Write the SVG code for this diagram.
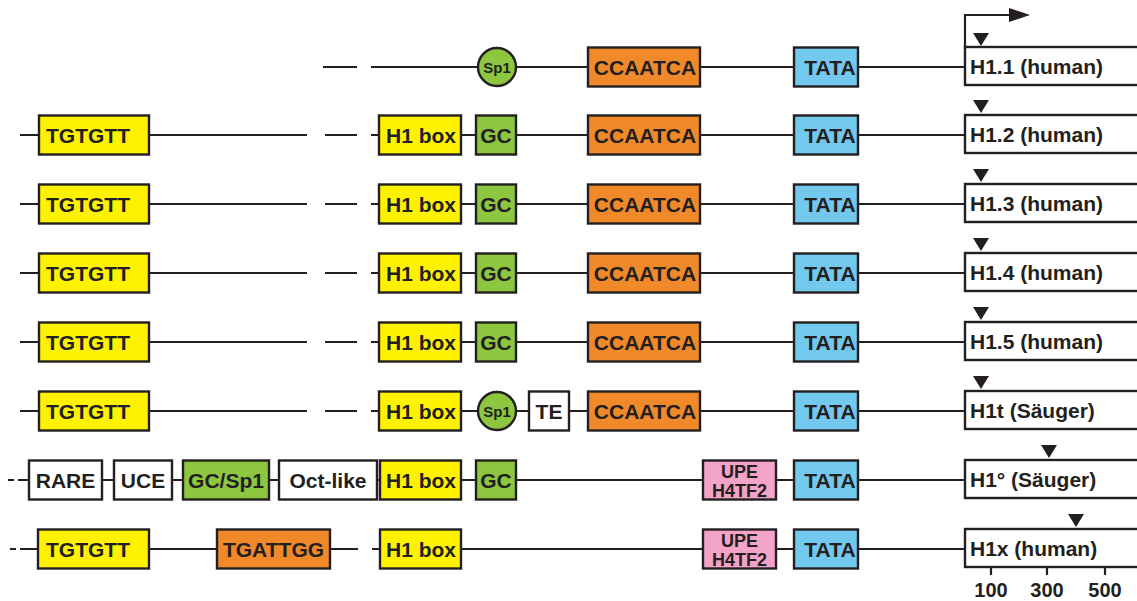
<svg xmlns="http://www.w3.org/2000/svg" width="1137" height="601" viewBox="0 0 1137 601">
<style>
.ln{stroke:#231f20;stroke-width:2.2;fill:none}
.bx{stroke:#231f20;stroke-width:2.4}
.y{fill:#fff200}.g{fill:#8dc63f}.o{fill:#f0892a}.b{fill:#73c8ee}.p{fill:#f3a3c8}.w{fill:#ffffff}
.t{font-family:"Liberation Sans",Arial,sans-serif;font-weight:bold;font-size:21px;fill:#231f20;text-anchor:middle}
.s{font-size:15px}
.u{font-size:18px}
.l{text-anchor:start}
.n{font-size:20px}
.tri{fill:#231f20}
</style>
<rect width="1137" height="601" fill="#ffffff"/>
<g id="connectors">
<!-- row 1 -->
<path class="ln" d="M323 67H357M371 67H478M516 67H588M700 67H794M858 67H965"/>
<!-- rows 2-5 -->
<path class="ln" d="M20 135H39M149 135H307M325 135H357M371 135H379M461 135H476M516 135H588M700 135H794M858 135H965"/>
<path class="ln" d="M20 204H39M149 204H307M325 204H357M371 204H379M461 204H476M516 204H588M700 204H794M858 204H965"/>
<path class="ln" d="M20 273H39M149 273H307M325 273H357M371 273H379M461 273H476M516 273H588M700 273H794M858 273H965"/>
<path class="ln" d="M20 342H39M149 342H307M325 342H357M371 342H379M461 342H476M516 342H588M700 342H794M858 342H965"/>
<!-- row 6 -->
<path class="ln" d="M20 411H39M149 411H307M325 411H357M371 411H379M461 411H478M516 411H529M569 411H588M700 411H794M858 411H965"/>
<!-- row 7 -->
<path class="ln" d="M8 480H14M18 480H29M102 480H114M172 480H183M269 480H279M377 480H380M461 480H476M516 480H703M776 480H794M858 480H965"/>
<!-- row 8 -->
<path class="ln" d="M10 549H16M20 549H38M149 549H217M330 549H358M372 549H380M461 549H703M776 549H794M858 549H965"/>
<!-- transcription start arrow -->
<path class="ln" d="M965 49V15H1012"/>
<polygon class="tri" points="1009,8 1030,15 1009,22"/>
</g>

<!-- row 1 -->
<g id="r1-sp1"><circle class="bx g" cx="497" cy="67" r="19"/><text class="t s" x="497" y="72.5">Sp1</text></g>
<g id="r1-ccaatca"><rect class="bx o" x="588" y="47.5" width="112" height="39"/><text class="t" x="645" y="74.5">CCAATCA</text></g>
<g id="r1-tata"><rect class="bx b" x="794" y="47.5" width="64" height="39"/><text class="t" x="830" y="74.5">TATA</text></g>
<g id="r1-gene"><rect class="bx w" x="965" y="47" width="180" height="38"/><polygon class="tri" points="973,33 989,33 981,46"/><text class="t l" x="970" y="74">H1.1 (human)</text></g>

<!-- row 2 -->
<g id="r2-tgtgtt"><rect class="bx y" x="39" y="115.5" width="110" height="39"/><text class="t" x="88" y="142.5">TGTGTT</text></g>
<g id="r2-h1box"><rect class="bx y" x="379" y="115.5" width="82" height="39"/><text class="t" x="421" y="142.5">H1 box</text></g>
<g id="r2-gc"><rect class="bx g" x="476" y="115.5" width="40" height="39"/><text class="t" x="496" y="142.5">GC</text></g>
<g id="r2-ccaatca"><rect class="bx o" x="588" y="115.5" width="112" height="39"/><text class="t" x="645" y="142.5">CCAATCA</text></g>
<g id="r2-tata"><rect class="bx b" x="794" y="115.5" width="64" height="39"/><text class="t" x="830" y="142.5">TATA</text></g>
<g id="r2-gene"><rect class="bx w" x="965" y="115" width="180" height="38"/><polygon class="tri" points="973,100 989,100 981,113"/><text class="t l" x="970" y="142">H1.2 (human)</text></g>

<!-- row 3 -->
<g id="r3-tgtgtt"><rect class="bx y" x="39" y="184.5" width="110" height="39"/><text class="t" x="88" y="211.5">TGTGTT</text></g>
<g id="r3-h1box"><rect class="bx y" x="379" y="184.5" width="82" height="39"/><text class="t" x="421" y="211.5">H1 box</text></g>
<g id="r3-gc"><rect class="bx g" x="476" y="184.5" width="40" height="39"/><text class="t" x="496" y="211.5">GC</text></g>
<g id="r3-ccaatca"><rect class="bx o" x="588" y="184.5" width="112" height="39"/><text class="t" x="645" y="211.5">CCAATCA</text></g>
<g id="r3-tata"><rect class="bx b" x="794" y="184.5" width="64" height="39"/><text class="t" x="830" y="211.5">TATA</text></g>
<g id="r3-gene"><rect class="bx w" x="965" y="184" width="180" height="38"/><polygon class="tri" points="973,169 989,169 981,182"/><text class="t l" x="970" y="211">H1.3 (human)</text></g>

<!-- row 4 -->
<g id="r4-tgtgtt"><rect class="bx y" x="39" y="253.5" width="110" height="39"/><text class="t" x="88" y="280.5">TGTGTT</text></g>
<g id="r4-h1box"><rect class="bx y" x="379" y="253.5" width="82" height="39"/><text class="t" x="421" y="280.5">H1 box</text></g>
<g id="r4-gc"><rect class="bx g" x="476" y="253.5" width="40" height="39"/><text class="t" x="496" y="280.5">GC</text></g>
<g id="r4-ccaatca"><rect class="bx o" x="588" y="253.5" width="112" height="39"/><text class="t" x="645" y="280.5">CCAATCA</text></g>
<g id="r4-tata"><rect class="bx b" x="794" y="253.5" width="64" height="39"/><text class="t" x="830" y="280.5">TATA</text></g>
<g id="r4-gene"><rect class="bx w" x="965" y="253" width="180" height="38"/><polygon class="tri" points="973,238 989,238 981,251"/><text class="t l" x="970" y="280">H1.4 (human)</text></g>

<!-- row 5 -->
<g id="r5-tgtgtt"><rect class="bx y" x="39" y="322.5" width="110" height="39"/><text class="t" x="88" y="349.5">TGTGTT</text></g>
<g id="r5-h1box"><rect class="bx y" x="379" y="322.5" width="82" height="39"/><text class="t" x="421" y="349.5">H1 box</text></g>
<g id="r5-gc"><rect class="bx g" x="476" y="322.5" width="40" height="39"/><text class="t" x="496" y="349.5">GC</text></g>
<g id="r5-ccaatca"><rect class="bx o" x="588" y="322.5" width="112" height="39"/><text class="t" x="645" y="349.5">CCAATCA</text></g>
<g id="r5-tata"><rect class="bx b" x="794" y="322.5" width="64" height="39"/><text class="t" x="830" y="349.5">TATA</text></g>
<g id="r5-gene"><rect class="bx w" x="965" y="322" width="180" height="38"/><polygon class="tri" points="973,307 989,307 981,320"/><text class="t l" x="970" y="349">H1.5 (human)</text></g>

<!-- row 6 -->
<g id="r6-tgtgtt"><rect class="bx y" x="39" y="391.5" width="110" height="39"/><text class="t" x="88" y="418.5">TGTGTT</text></g>
<g id="r6-h1box"><rect class="bx y" x="379" y="391.5" width="82" height="39"/><text class="t" x="421" y="418.5">H1 box</text></g>
<g id="r6-sp1"><circle class="bx g" cx="497" cy="411" r="19"/><text class="t s" x="497" y="416.5">Sp1</text></g>
<g id="r6-te"><rect class="bx w" x="529" y="391.5" width="40" height="39"/><text class="t" x="549" y="418.5">TE</text></g>
<g id="r6-ccaatca"><rect class="bx o" x="588" y="391.5" width="112" height="39"/><text class="t" x="645" y="418.5">CCAATCA</text></g>
<g id="r6-tata"><rect class="bx b" x="794" y="391.5" width="64" height="39"/><text class="t" x="830" y="418.5">TATA</text></g>
<g id="r6-gene"><rect class="bx w" x="965" y="391" width="180" height="38"/><polygon class="tri" points="973,376 989,376 981,389"/><text class="t l" x="970" y="418">H1t (Säuger)</text></g>

<!-- row 7 -->
<g id="r7-rare"><rect class="bx w" x="29" y="460.5" width="73" height="39"/><text class="t" x="65.5" y="487.5">RARE</text></g>
<g id="r7-uce"><rect class="bx w" x="114" y="460.5" width="58" height="39"/><text class="t" x="143" y="487.5">UCE</text></g>
<g id="r7-gcsp1"><rect class="bx g" x="183" y="460.5" width="86" height="39"/><text class="t" x="226" y="487.5">GC/Sp1</text></g>
<g id="r7-octlike"><rect class="bx w" x="279" y="460.5" width="98" height="39"/><text class="t" x="328" y="487.5">Oct-like</text></g>
<g id="r7-h1box"><rect class="bx y" x="380" y="460.5" width="81" height="39"/><text class="t" x="421" y="487.5">H1 box</text></g>
<g id="r7-gc"><rect class="bx g" x="476" y="460.5" width="40" height="39"/><text class="t" x="496" y="487.5">GC</text></g>
<g id="r7-upe"><rect class="bx p" x="703" y="460.5" width="73" height="39"/><text class="t u" x="739.5" y="478">UPE</text><text class="t u" x="739.5" y="497">H4TF2</text></g>
<g id="r7-tata"><rect class="bx b" x="794" y="460.5" width="64" height="39"/><text class="t" x="830" y="487.5">TATA</text></g>
<g id="r7-gene"><rect class="bx w" x="965" y="460" width="180" height="38"/><polygon class="tri" points="1041,445 1057,445 1049,458"/><text class="t l" x="970" y="487">H1° (Säuger)</text></g>

<!-- row 8 -->
<g id="r8-tgtgtt"><rect class="bx y" x="38" y="529.5" width="111" height="39"/><text class="t" x="88" y="556.5">TGTGTT</text></g>
<g id="r8-tgattgg"><rect class="bx o" x="217" y="529.5" width="113" height="39"/><text class="t" x="273.5" y="556.5">TGATTGG</text></g>
<g id="r8-h1box"><rect class="bx y" x="380" y="529.5" width="81" height="39"/><text class="t" x="421" y="556.5">H1 box</text></g>
<g id="r8-upe"><rect class="bx p" x="703" y="529.5" width="73" height="39"/><text class="t u" x="739.5" y="547">UPE</text><text class="t u" x="739.5" y="566">H4TF2</text></g>
<g id="r8-tata"><rect class="bx b" x="794" y="529.5" width="64" height="39"/><text class="t" x="830" y="556.5">TATA</text></g>
<g id="r8-gene"><rect class="bx w" x="965" y="529" width="180" height="38"/><polygon class="tri" points="1068,514 1084,514 1076,527"/><text class="t l" x="970" y="556">H1x (human)</text></g>

<!-- scale -->
<g id="scale">
<path class="ln" d="M991 567V575M1047 567V575M1105 567V575"/>
<text class="t n" x="991" y="597">100</text>
<text class="t n" x="1047" y="597">300</text>
<text class="t n" x="1105" y="597">500</text>
</g>
</svg>
